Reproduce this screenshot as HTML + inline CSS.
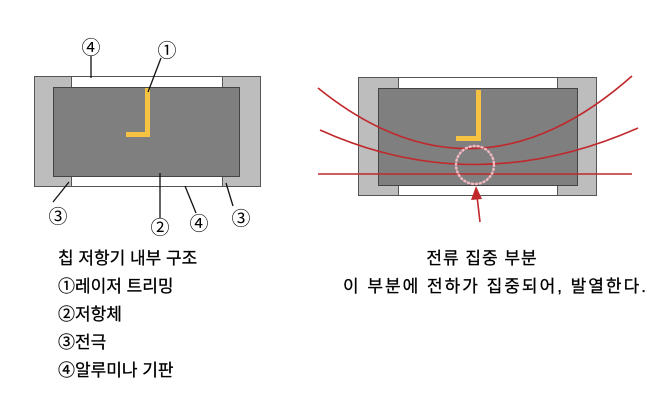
<!DOCTYPE html>
<html><head><meta charset="utf-8"><style>
body{margin:0;background:#fff;width:667px;height:402px;overflow:hidden}
svg{position:absolute;left:0;top:0}
text{font-family:"Liberation Sans","Noto Sans CJK KR",sans-serif;fill:#000}
</style></head><body>
<svg width="667" height="402" viewBox="0 0 667 402">
<!-- left chip -->
<rect x="34.5" y="76.5" width="226" height="110" fill="#fff" stroke="#555"/>
<rect x="34.5" y="76.5" width="37" height="110" fill="#bdbdbd" stroke="#555"/>
<rect x="222.5" y="76.5" width="38" height="110" fill="#bdbdbd" stroke="#555"/>
<rect x="53.5" y="87.5" width="186" height="89" fill="#7f7f7f" stroke="#444"/>
<rect x="145" y="88" width="5" height="49" fill="#f5c242"/>
<rect x="126" y="132" width="24" height="5" fill="#f5c242"/>
<g stroke="#111" stroke-width="1.3" fill="none">
<line x1="91" y1="56" x2="91" y2="78"/>
<line x1="161" y1="58" x2="148" y2="92"/>
<line x1="53" y1="202" x2="69" y2="182"/>
<line x1="160" y1="173" x2="160" y2="218"/>
<line x1="185" y1="186" x2="196" y2="213"/>
<line x1="226" y1="183" x2="233" y2="206"/>
</g>
<g font-size="19" text-anchor="middle">
<text x="91" y="54">④</text>
<text x="167" y="57">①</text>
<text x="58" y="223">③</text>
<text x="160" y="234">②</text>
<text x="199" y="230">④</text>
<text x="241" y="225">③</text>
</g>
<!-- right chip -->
<rect x="358.5" y="77.5" width="238" height="118" fill="#fff" stroke="#555"/>
<rect x="358.5" y="77.5" width="40" height="118" fill="#bdbdbd" stroke="#555"/>
<rect x="557.5" y="77.5" width="39" height="118" fill="#bdbdbd" stroke="#555"/>
<rect x="378.5" y="88.5" width="199" height="97" fill="#7f7f7f" stroke="#444"/>
<rect x="476" y="90" width="5" height="51" fill="#f5c242"/>
<rect x="456" y="136" width="25" height="5" fill="#f5c242"/>
<g stroke="#c0282c" stroke-width="1.6" fill="none">
<path d="M318 88 Q475 215 632 76"/>
<path d="M320 130 Q475 200 638 128"/>
<line x1="318" y1="174" x2="632" y2="174"/>
<line x1="480" y1="222" x2="477" y2="196"/>
</g>
<path d="M476 186 L471 200 L482 199 Z" fill="#c0282c"/>
<circle cx="475" cy="165" r="19" fill="none" stroke="#f0b8c0" stroke-width="2.5" stroke-dasharray="1 3" stroke-linecap="round"/>
<!-- text -->
<g font-size="17" stroke="#000" stroke-width="0.3">
<text x="58" y="264">칩 저항기 내부 구조</text>
<text x="58" y="292">①레이저 트리밍</text>
<text x="58" y="320">②저항체</text>
<text x="58" y="348">③전극</text>
<text x="58" y="376">④알루미나 기판</text>
<text x="482" y="264" text-anchor="middle" letter-spacing="1">전류 집중 부분</text>
<text x="343" y="292" letter-spacing="2">이 부분에 전하가 집중되어, 발열한다.</text>
</g>
</svg>
</body></html>
